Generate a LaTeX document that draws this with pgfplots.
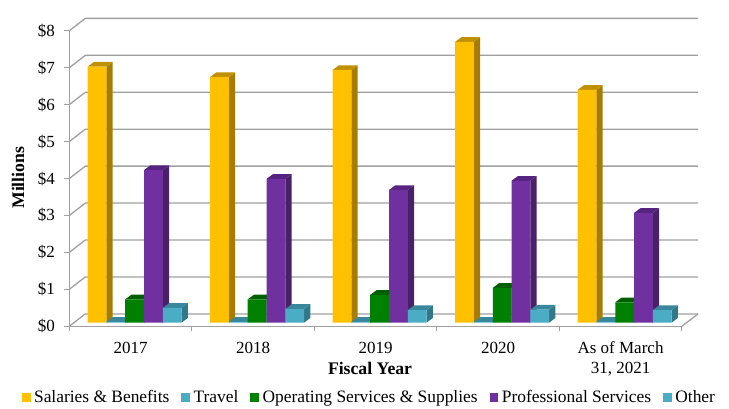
\documentclass[border=0pt]{standalone}
\usepackage{fontspec}
\setmainfont{Liberation Serif}
\usepackage{pgfplots}
\usepackage{pgfplotstable}
\pgfplotsset{compat=1.18}
\usetikzlibrary{calc}
\definecolor{wall}{HTML}{A0A0A0}
\definecolor{cSal}{HTML}{FFC000}\definecolor{sSal}{HTML}{A67D00}\definecolor{tSal}{HTML}{BF9000}
\definecolor{cTra}{HTML}{4BACC6}\definecolor{sTra}{HTML}{31788A}\definecolor{tTra}{HTML}{38879C}
\definecolor{cOps}{HTML}{008000}\definecolor{sOps}{HTML}{005300}\definecolor{tOps}{HTML}{006000}
\definecolor{cPro}{HTML}{7030A0}\definecolor{sPro}{HTML}{4A2069}\definecolor{tPro}{HTML}{562480}
\pgfplotstableread{
x sal tra ops pro oth
0 6.93 0.02 0.63 4.13 0.40
1 6.65 0.02 0.63 3.89 0.37
2 6.84 0.02 0.75 3.59 0.34
3 7.60 0.02 0.94 3.84 0.35
4 6.30 0.02 0.55 2.97 0.34
}\datatable
% one px of the reference is one pt here
\pgfdeclareplotmark{depth}{%
  \pgfmathsetlengthmacro{\hh}{\pgfplotspointmetatransformed*0.29552pt}%
  \fill[draw=none,fill=\sidecol] (9.4pt,0pt) -- (15.7pt,4.7pt) -- ($(15.7pt,4.7pt)-(0pt,\hh)$) -- ($(9.4pt,0pt)-(0pt,\hh)$) -- cycle;
  \fill[draw=none,fill=\topcol] (-9.4pt,0pt) -- (9.4pt,0pt) -- (15.7pt,4.7pt) -- (-3.1pt,4.7pt) -- cycle;
}
% args: column, bar shift (in pt), front, side, top
\newcommand{\serie}[5]{%
  \addplot[forget plot, only marks, scatter, mark=depth,
     point meta=y, point meta min=0, point meta max=8,
     scatter/@pre marker code/.code={\def\sidecol{#4}\def\topcol{#5}\pgfscope\pgftransformxshift{#2pt}},
     scatter/@post marker code/.code={\endpgfscope}]
     table[x=x,y=#1] {\datatable};
  \addplot[ybar, bar width=18.8pt, bar shift=#2pt, fill=#3, draw=none,
     legend image code/.code={\fill[fill=#3] (0pt,-4.5pt) rectangle (8.7pt,4.5pt);}]
     table[x=x,y=#1] {\datatable};
}
\begin{document}
\begin{tikzpicture}[x=1pt,y=1pt]
\useasboundingbox (0,0) rectangle (729,408);
% walls: back plane and floor (front plane corner at 69.3/326.3)
\foreach \k in {0,...,8}{
  \pgfmathsetmacro{\yf}{81.7+\k*36.94}
  \pgfmathsetmacro{\yb}{\yf+12.4}
  \draw[wall,line width=1.3pt] (69.3,\yf) -- (85.3,\yb) -- (698,\yb);
}
\draw[wall,line width=1.3pt] (681.8,81.7) -- (698,94.1);
\begin{axis}[
  at={(69.3pt,81.7pt)}, anchor=south west, scale only axis,
  width=612.5pt, height=295.5pt,
  xmin=-0.5, xmax=4.5, ymin=0, ymax=8,
  axis lines=left, axis line style={wall,line width=1.5pt,-},
  xtick={-0.5,0.5,...,4.5}, x tick label as interval,
  xticklabels={2017,2018,2019,2020,{As of March\\31, 2021}},
  xticklabel style={align=center,font=\fontsize{17}{19.5}\selectfont,text=black,yshift=-7pt},
  ytick={0,...,8}, yticklabel={\$\pgfmathprintnumber{\tick}},
  /pgf/number format/assume math mode=true,
  yticklabel style={font=\fontsize{17}{19}\selectfont,text=black,xshift=-6pt},
  tick style={wall,line width=1.3pt},
  tick align=outside, major tick length=5pt,
  tick pos=left,
  xlabel={\textbf{Fiscal Year}}, ylabel={\textbf{Millions}},
  label style={font=\fontsize{17.7}{20}\selectfont},
  xlabel style={at={(axis description cs:0.491,-0.141)},anchor=center},
  ylabel style={at={(axis description cs:-0.0838,0.503)},anchor=center},
]
\addplot[draw=none,forget plot] coordinates {(0,0)};
\end{axis}
\begin{axis}[
  at={(73.4pt,85.4pt)}, anchor=south west, scale only axis,
  width=612.5pt, height=295.5pt,
  xmin=-0.5, xmax=4.5, ymin=0, ymax=8,
  hide axis, clip=false, clip mode=individual,
  legend columns=5,
  legend cell align=left,
  legend style={at={(axis description cs:0,0)},anchor=south west,xshift=-51.7pt,yshift=-84pt,draw=none,fill=none,
     font=\fontsize{17.4}{20}\selectfont,inner sep=0pt,
     /tikz/every odd column/.append style={column sep=1.5pt},
     /tikz/every even column/.append style={column sep=10pt}},
]
\serie{sal}{-37.6}{cSal}{sSal}{tSal}
\serie{tra}{-18.8}{cTra}{sTra}{tTra}
\serie{ops}{0}{cOps}{sOps}{tOps}
\serie{pro}{18.8}{cPro}{sPro}{tPro}
\serie{oth}{37.6}{cTra}{sTra}{tTra}
\legend{Salaries \& Benefits,Travel,Operating Services \& Supplies,Professional Services,Other}
\end{axis}
\end{tikzpicture}
\end{document}
